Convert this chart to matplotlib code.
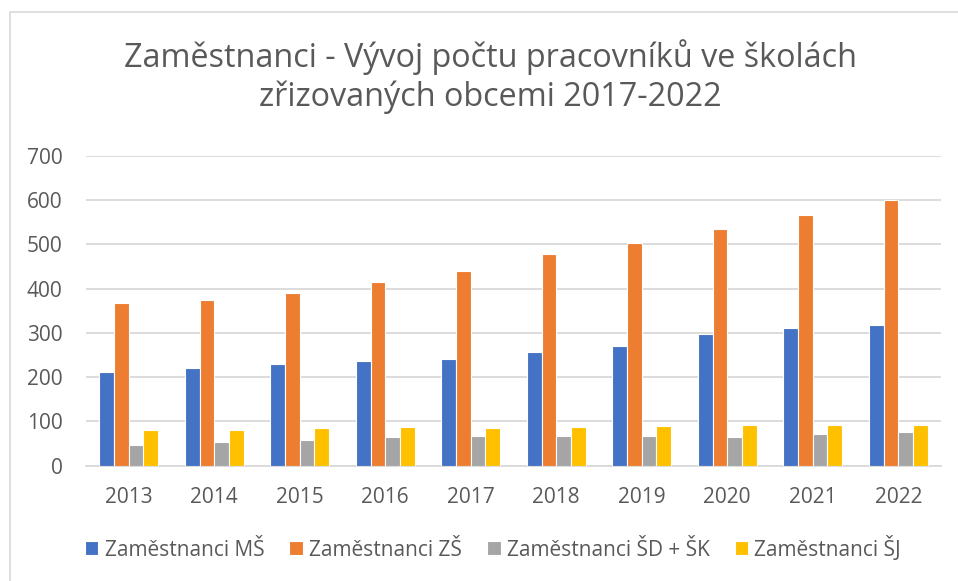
import matplotlib
matplotlib.use("Agg")
import matplotlib.pyplot as plt
import numpy as np
from matplotlib.patches import Rectangle

years = ["2013", "2014", "2015", "2016", "2017", "2018", "2019", "2020", "2021", "2022"]
ms = [211, 221, 229, 236, 242, 257, 271, 297, 310, 318]
zs = [367, 374, 391, 414, 440, 477, 503, 535, 565, 600]
sdsk = [47, 53, 59, 65, 67, 67, 68, 65, 71, 76]
sj = [80, 80, 86, 87, 85, 88, 90, 93, 91, 91]
labels = ["Zaměstnanci MŠ", "Zaměstnanci ZŠ", "Zaměstnanci ŠD + ŠK", "Zaměstnanci ŠJ"]
colors = ["#4472C4", "#ED7D31", "#A5A5A5", "#FFC000"]
title1 = "Zaměstnanci - Vývoj počtu pracovníků ve školách"
title2 = "zřizovaných obcemi 2017-2022"

plt.rcParams['font.family'] = ['Open Sans', 'DejaVu Sans']
txt = "#595959"
W, H = 958, 581
fig = plt.figure(figsize=(W / 100, H / 100), dpi=100)

# chart border (only left and top visible)
fig.patches.append(Rectangle((10 / W, -0.2), 1.2, 0.2 + (H - 12) / H, transform=fig.transFigure,
                             fill=False, edgecolor="#D9D9D9", linewidth=1.2))

ax = fig.add_axes([86 / W, (H - 465.7) / H, 855 / W, 310 / H])
x = np.arange(len(years))
bw = 0.172
series = [ms, zs, sdsk, sj]
for i, (vals, c, lab) in enumerate(zip(series, colors, labels)):
    ax.bar(x + (i - 1.5) * bw, vals, width=bw, color=c, edgecolor="white", linewidth=0.8, label=lab, zorder=3)

ax.set_xlim(-0.5, len(years) - 0.5)
ax.set_ylim(0, 700)
ax.set_yticks(range(0, 701, 100))
ax.set_xticks(x)
ax.set_xticklabels(years)
ax.yaxis.grid(True, color="#D9D9D9", linewidth=1.3, zorder=0)
for s in ["top", "right", "left"]:
    ax.spines[s].set_visible(False)
ax.spines["bottom"].set_color("#D9D9D9")
ax.spines["bottom"].set_linewidth(1.3)
ax.tick_params(axis="both", length=0, labelsize=15, labelcolor=txt)
ax.tick_params(axis="y", pad=17)
ax.tick_params(axis="x", pad=15)

fig.text(490 / W, 1 - 67 / H, title1, ha="center", va="baseline", fontsize=23.3, color=txt)
fig.text(490 / W, 1 - 106 / H, title2, ha="center", va="baseline", fontsize=23.3, color=txt)

fig.legend(loc="center", bbox_to_anchor=(493 / W, 1 - 548 / H), ncol=4, frameon=False,
           fontsize=15, labelcolor=txt, handlelength=0.65, handleheight=0.65,
           handletextpad=0.3, columnspacing=1.2)

fig.savefig("out.png", dpi=100)
